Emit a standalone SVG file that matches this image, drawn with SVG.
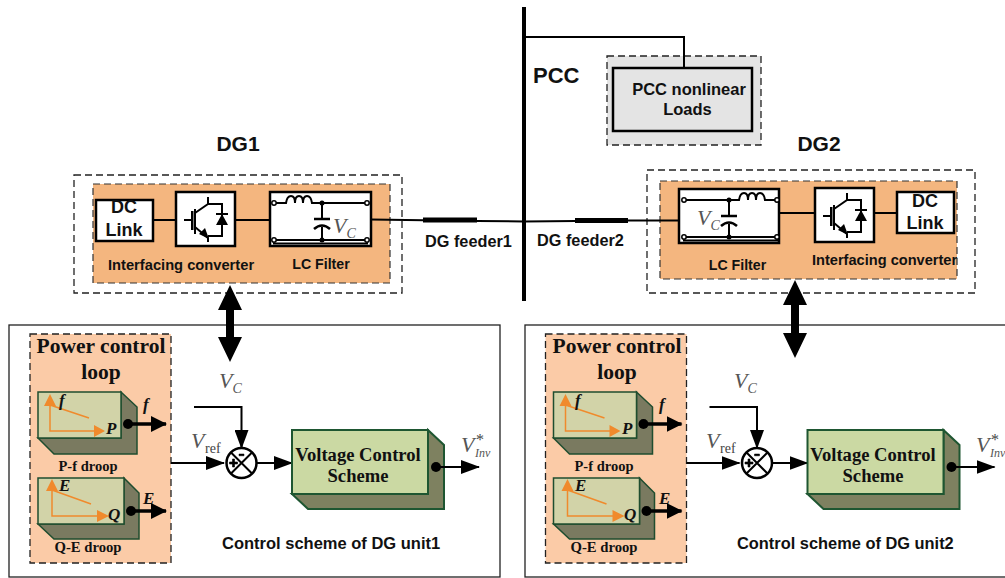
<svg xmlns="http://www.w3.org/2000/svg" width="1005" height="578" viewBox="0 0 1005 578">
<style>
text{font-family:"Liberation Sans",Arial,sans-serif;font-weight:bold;fill:#111}
.s{font-family:"Liberation Serif","Times New Roman",serif;font-weight:bold}
.v{font-family:"Liberation Serif","Times New Roman",serif;font-weight:normal;font-style:italic;fill:#555}
.r{font-family:"Liberation Serif","Times New Roman",serif;font-weight:normal;font-style:normal;fill:#444}
.bi{font-family:"Liberation Serif","Times New Roman",serif;font-style:italic;font-weight:bold}
.m{text-anchor:middle}
.w{fill:none;stroke:#000;stroke-width:2}
.h{fill:none;stroke:#000;stroke-width:2.5}
.dash{fill:none;stroke:#222;stroke-width:1.3;stroke-dasharray:7 4}
.box{fill:#fff;stroke:#000;stroke-width:2.5}
.front{fill:#d2d3a8;stroke:#1f4d2f;stroke-width:1.5}
.side{fill:#7a7a60;stroke:#1f4d2f;stroke-width:1.5}
.front2{fill:#cbd9a3;stroke:#1e5631;stroke-width:2}
.side2{fill:#7e8160;stroke:#1e5631;stroke-width:2}
.o{fill:none;stroke:#f08a2c;stroke-width:1.5}
.of{fill:#f08a2c}
.frame{fill:#fff;stroke:#222;stroke-width:1.3}
</style>
<defs>
<marker id="a" markerUnits="userSpaceOnUse" markerWidth="19" markerHeight="14" refX="18" refY="7" orient="auto"><path d="M0 0L19 7L0 14Z" fill="#000"/></marker>
<marker id="b" markerUnits="userSpaceOnUse" markerWidth="16" markerHeight="16" refX="15" refY="8" orient="auto"><path d="M0 0L16 8L0 16Z" fill="#000"/></marker>
<g id="igbt">
<rect class="box" width="59" height="54"/>
<path class="w" d="M8 28H15M19 17V42M19 21L32 12V5M19 35L32 46V50M32 12H46V44H32M40 22H52"/>
<path d="M15 19h2.500v19H15Z"/>
<path d="M46 22L52 33H40Z"/>
<path d="M33 47L23 42L29 36Z"/>
</g>
<g id="lci">
<path class="w" d="M6 11H16Q17 4 21 4T25 11Q25 4 29 4T33 11Q33 4 37 4T42 11H95M6 48H95M3 51.500H98"/>
<circle cx="4" cy="11" r="2.200" fill="#fff" stroke="#000" stroke-width="1.500"/>
<circle cx="97" cy="11" r="2.200" fill="#fff" stroke="#000" stroke-width="1.500"/>
<circle cx="4" cy="48" r="2.200" fill="#fff" stroke="#000" stroke-width="1.500"/>
<circle cx="97" cy="48" r="2.200" fill="#fff" stroke="#000" stroke-width="1.500"/>
<circle cx="52" cy="11" r="2.500"/><circle cx="52" cy="48" r="2.500"/>
<path class="w" d="M52 11V27M52 35V48"/>
<path class="h" d="M44 27H60M44 37Q52 30 60 37"/>
</g>
<g id="sum">
<circle r="15" fill="#fff" stroke="#000" stroke-width="2.500"/>
<path class="w" d="M-10.500 -10.500L10.500 10.500M-10.500 10.500L10.500 -10.500"/>
<path d="M-12 -1h8v2h-8zM-9 -4h2v8h-2z" stroke="#000" stroke-width=".6"/>
<path d="M-2.500 -9h5v1.800h-5z" stroke="#000" stroke-width=".5"/>
</g>
<g id="ctrl">
<rect x="30" y="334" width="141" height="229" fill="#fbcba7" stroke="#222" stroke-width="1.300" stroke-dasharray="7 4"/>
<path class="side" d="M121 392L137 407V454H54L38 438H121Z"/>
<rect class="front" x="38" y="392" width="83" height="46"/>
<path class="side" d="M124 478L139 493V539H54L38 524H124Z"/>
<rect class="front" x="38" y="478" width="86" height="46"/>
<path class="o" d="M50 400V431H98M50 405L89 418"/>
<path class="of" d="M50 394L56 406H44ZM105 431L94 425V437Z"/>
<path class="o" d="M52 488V516H103M52 490L91 504"/>
<path class="of" d="M52 479L58 491H46ZM109 516L97 510V522Z"/>
<circle cx="128" cy="424" r="5"/><circle cx="131" cy="511" r="5"/>
<path d="M128 424H166" stroke="#000" stroke-width="3.500" marker-end="url(#b)"/>
<path d="M131 511H166" stroke="#000" stroke-width="3.500" marker-end="url(#b)"/>
<path class="w" d="M171 463H224" marker-end="url(#a)"/>
<path class="w" d="M194 407H241.500V448" marker-end="url(#a)"/>
<use href="#sum" x="241.500" y="463"/>
<path class="w" d="M257 463H292" marker-end="url(#a)"/>
<path class="side2" d="M428 430L444 445V509H308L292 494H428Z"/>
<rect class="front2" x="292" y="430" width="136" height="64"/>
<circle cx="436" cy="467" r="5"/>
<path class="w" d="M436 467H479" marker-end="url(#a)"/>
</g>
</defs>

<g id="pcc-label"><text x="533" y="83" font-size="22">PCC</text></g>
<g id="pcc-load">
<rect x="607" y="56" width="154" height="89" fill="#e4e4e4" stroke="#222" stroke-width="1.300" stroke-dasharray="7 4"/>
<rect x="613" y="68" width="139" height="63" fill="#e4e4e4" stroke="#000" stroke-width="2.500"/>
<text x="689" y="95" font-size="16.500" class="m">PCC nonlinear</text>
<text x="687.500" y="115" font-size="16.500" class="m">Loads</text>
</g>

<g id="dg1">
<text x="238" y="151" font-size="21" class="m">DG1</text>
<rect class="dash" x="74" y="175" width="328" height="118"/>
<rect x="93" y="184" width="297" height="99" fill="#f4b67f" stroke="#333" stroke-width="1.200" stroke-dasharray="7 4"/>
<path class="w" d="M153 220H176M235 220H270"/>
<rect class="box" x="96" y="200" width="57" height="41"/>
<text x="124" y="213" font-size="18" class="m">DC</text>
<text x="124" y="236" font-size="18" class="m">Link</text>
<use href="#igbt" x="176" y="192"/>
<rect class="box" x="270" y="192" width="101" height="54"/>
<use href="#lci" x="270" y="192"/>
<text class="v" x="333" y="233" font-size="22">V<tspan font-size="14" dy="5">C</tspan></text>
<text x="108" y="270" font-size="14.700">Interfacing converter</text>
<text x="321" y="269" font-size="14.200" class="m">LC Filter</text>
</g>

<g id="dg2">
<text x="819" y="151" font-size="21" class="m">DG2</text>
<rect class="dash" x="647" y="170" width="328" height="123"/>
<rect x="660" y="181" width="297" height="98" fill="#f4b67f" stroke="#333" stroke-width="1.200" stroke-dasharray="7 4"/>
<path class="w" d="M779 213H815M874 213H897"/>
<rect class="box" x="897" y="192" width="57" height="41"/>
<text x="925" y="207" font-size="18" class="m">DC</text>
<text x="925" y="229" font-size="18" class="m">Link</text>
<use href="#igbt" x="815" y="188"/>
<rect class="box" x="679" y="189" width="100" height="54"/>
<use href="#lci" transform="translate(781 189) scale(-1 1)"/>
<text class="v" x="697" y="225" font-size="22">V<tspan font-size="14" dy="5">C</tspan></text>
<text x="812" y="265" font-size="14.600">Interfacing converter</text>
<text x="737.500" y="270" font-size="14.200" class="m">LC Filter</text>
</g>

<g id="feeder-labels">
<text x="425" y="247" font-size="16.300">DG feeder1</text>
<text x="537" y="246" font-size="16.300">DG feeder2</text>
</g>

<g id="control1">
<rect class="frame" x="9" y="325" width="491" height="252"/>
<use href="#ctrl"/>
<text class="s m" x="101" y="353" font-size="21.500">Power control</text>
<text class="s m" x="101" y="379" font-size="21.500">loop</text>
<text class="bi" x="59" y="406" font-size="17">f</text>
<text class="bi" x="106" y="434" font-size="17">P</text>
<text class="bi" x="143" y="410" font-size="17">f</text>
<text class="s m" x="88" y="471" font-size="14.500">P-f droop</text>
<text class="bi" x="59" y="491" font-size="17">E</text>
<text class="bi" x="108" y="520" font-size="17">Q</text>
<text class="bi" x="143" y="504" font-size="17">E</text>
<text class="s m" x="88" y="552" font-size="14.700">Q-E droop</text>
<text class="v" x="219" y="388" font-size="22">V<tspan font-size="14" dy="5">C</tspan></text>
<text class="v" x="191" y="448" font-size="22">V</text>
<text class="r" x="205" y="453" font-size="14">ref</text>
<text class="s m" x="358" y="461" font-size="18.600">Voltage Control</text>
<text class="s m" x="358" y="482" font-size="18.600">Scheme</text>
<text class="v" x="461" y="452" font-size="22">V</text>
<text class="v" x="475" y="457" font-size="12" font-weight="bold">Inv</text>
<text class="r" x="476" y="445" font-size="16">*</text>
<text x="222" y="549" font-size="16.500">Control scheme of DG unit1</text>
</g>

<g id="control2">
<rect class="frame" x="525" y="325" width="490" height="252"/>
<use href="#ctrl" x="515.500"/>
<text class="s m" x="617" y="353" font-size="21.500">Power control</text>
<text class="s m" x="617" y="379" font-size="21.500">loop</text>
<text class="bi" x="575" y="406" font-size="17">f</text>
<text class="bi" x="622" y="434" font-size="17">P</text>
<text class="bi" x="659" y="410" font-size="17">f</text>
<text class="s m" x="604" y="471" font-size="14.500">P-f droop</text>
<text class="bi" x="575" y="491" font-size="17">E</text>
<text class="bi" x="624" y="520" font-size="17">Q</text>
<text class="bi" x="659" y="504" font-size="17">E</text>
<text class="s m" x="604" y="552" font-size="14.700">Q-E droop</text>
<text class="v" x="734" y="388" font-size="22">V<tspan font-size="14" dy="5">C</tspan></text>
<text class="v" x="706" y="448" font-size="22">V</text>
<text class="r" x="720" y="453" font-size="14">ref</text>
<text class="s m" x="873" y="461" font-size="18.600">Voltage Control</text>
<text class="s m" x="873" y="482" font-size="18.600">Scheme</text>
<text class="v" x="976" y="452" font-size="22">V</text>
<text class="v" x="990" y="457" font-size="12" font-weight="bold">Inv</text>
<text class="r" x="991" y="445" font-size="16">*</text>
<text x="737" y="549" font-size="16.400">Control scheme of DG unit2</text>
</g>

<g id="connectors">
<path d="M524 7V301" stroke="#000" stroke-width="4" fill="none"/>
<path class="w" d="M524 37H684V68"/>
<path class="w" d="M371 219.500L477 221L524 221.500L628 220.500H679"/>
<path d="M423 220H477M575 220.500H628" stroke="#000" stroke-width="5" fill="none"/>
<path d="M230 285L242 310H234V337H242L230 362L218 337H226V310H218Z"/>
<path d="M795 280L807 305H799V333H807L795 358L783 333H791V305H783Z"/>
</g>
</svg>
